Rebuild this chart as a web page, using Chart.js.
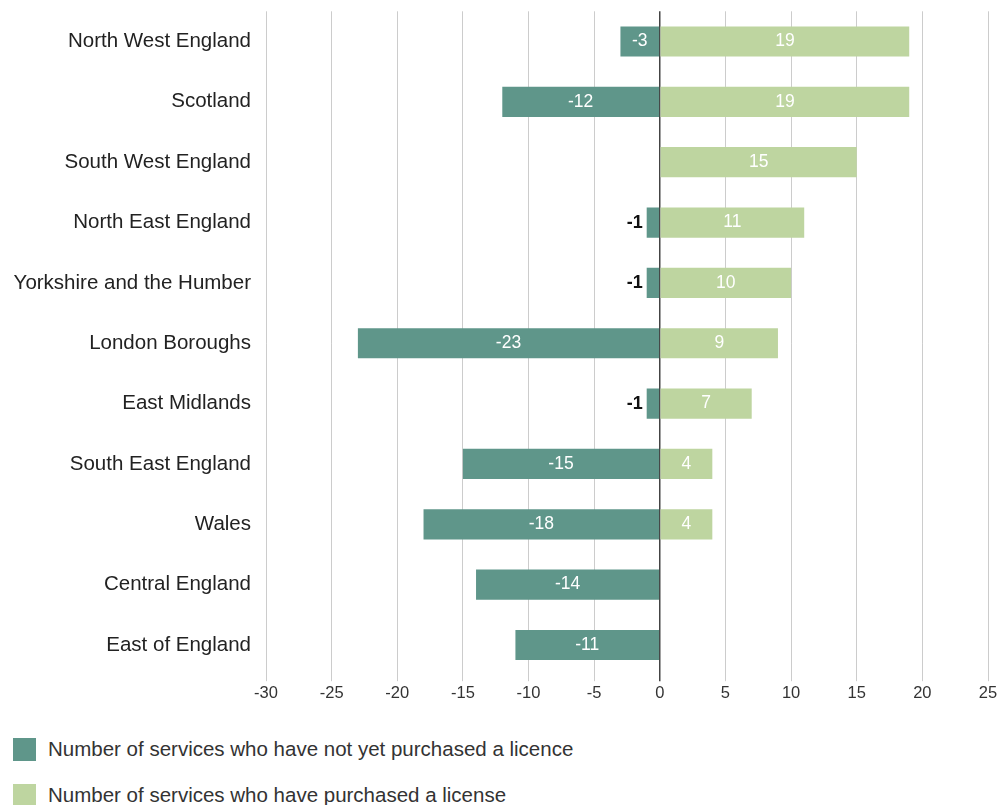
<!DOCTYPE html>
<html>
<head>
<meta charset="utf-8">
<script src="https://cdn.jsdelivr.net/npm/chart.js@4"></script>
<style>
  html, body { margin: 0; padding: 0; background: #fff; }
  body { width: 1000px; height: 805px; overflow: hidden; position: relative; font-family: "Liberation Sans", Arial, sans-serif; }
  #wrap { position: absolute; left: 0; top: -8px; width: 1000px; height: 713px; }
  #legend { position: absolute; left: 13px; top: 737px; }
  .item { display: flex; align-items: center; height: 24px; margin-bottom: 22px; color: #333; font-size: 20.5px; }
  .box { width: 23px; height: 23px; margin-right: 12px; }
</style>
</head>
<body>
<div id="wrap"><canvas id="myChart"></canvas></div>
<div id="legend"></div>
<script>
const regions = [
  'North West England', 'Scotland', 'South West England', 'North East England',
  'Yorkshire and the Humber', 'London Boroughs', 'East Midlands',
  'South East England', 'Wales', 'Central England', 'East of England'
];
const notPurchased = [-3, -12, 0, -1, -1, -23, -1, -15, -18, -14, -11];
const purchased = [19, 19, 15, 11, 10, 9, 7, 4, 4, 0, 0];
const xTicks = [-30, -25, -20, -15, -10, -5, 0, 5, 10, 15, 20, 25];

// value labels: white inside the bar, dark just outside it when the bar is too narrow
const barLabels = {
  id: 'barLabels',
  afterDatasetsDraw(chart) {
    const ctx = chart.ctx;
    ctx.save();
    ctx.textBaseline = 'middle';
    chart.data.datasets.forEach((ds, i) => {
      chart.getDatasetMeta(i).data.forEach((bar, j) => {
        const v = ds.data[j];
        if (!v) return;
        const w = Math.abs(bar.x - bar.base);
        if (w > 24) {
          ctx.font = '17.5px "Liberation Sans", Arial, sans-serif';
          ctx.fillStyle = '#ffffff';
          ctx.textAlign = 'center';
          ctx.fillText(v, (bar.x + bar.base) / 2, bar.y);
        } else {
          ctx.font = 'bold 18px "Liberation Sans", Arial, sans-serif';
          ctx.fillStyle = '#111111';
          ctx.textAlign = v < 0 ? 'right' : 'left';
          ctx.fillText(v, v < 0 ? Math.min(bar.x, bar.base) - 4 : Math.max(bar.x, bar.base) + 4, bar.y);
        }
      });
    });
    ctx.restore();
  }
};

const ctx = document.getElementById('myChart').getContext('2d');

var chart = new Chart(ctx, {
  type: 'bar',
  data: {
    labels: regions,
    datasets: [{
      label: 'Number of services who have not yet purchased a licence',
      backgroundColor: '#5f968a',
      data: notPurchased,
      barPercentage: 0.5,
      categoryPercentage: 1
    }, {
      label: 'Number of services who have purchased a license',
      backgroundColor: '#bed5a0',
      data: purchased,
      barPercentage: 0.5,
      categoryPercentage: 1
    }]
  },
  options: {
    indexAxis: 'y',
    responsive: true,
    maintainAspectRatio: false,
    animation: false,
    layout: {
      padding: { top: 11, right: 12, left: 0, bottom: 0 }
    },
    plugins: {
      legend: { display: false },
      tooltip: { enabled: false }
    },
    scales: {
      x: {
        stacked: true,
        min: -30,
        max: 25,
        afterBuildTicks: (scale) => { scale.ticks = xTicks.map(v => ({ value: v })); },
        border: { display: false },
        grid: {
          color: (c) => c.tick && c.tick.value === 0 ? '#444444' : '#cccccc',
          lineWidth: (c) => c.tick && c.tick.value === 0 ? 1.5 : 1,
          tickLength: 6
        },
        ticks: {
          color: '#333',
          padding: 2,
          font: { family: '"Liberation Sans", Arial, sans-serif', size: 16.5 }
        }
      },
      y: {
        stacked: true,
        afterFit: (scale) => { scale.width = 266; },
        border: { display: false },
        grid: { display: false },
        ticks: {
          color: '#222',
          padding: 7,
          font: { family: '"Liberation Sans", Arial, sans-serif', size: 20.5 }
        }
      }
    }
  },
  plugins: [barLabels]
});

// legend list below the chart
const legend = document.getElementById('legend');
chart.data.datasets.forEach(ds => {
  const item = document.createElement('div');
  item.className = 'item';
  item.innerHTML = '<span class="box" style="background:' + ds.backgroundColor + '"></span>' + ds.label;
  legend.appendChild(item);
});
</script>
</body>
</html>
